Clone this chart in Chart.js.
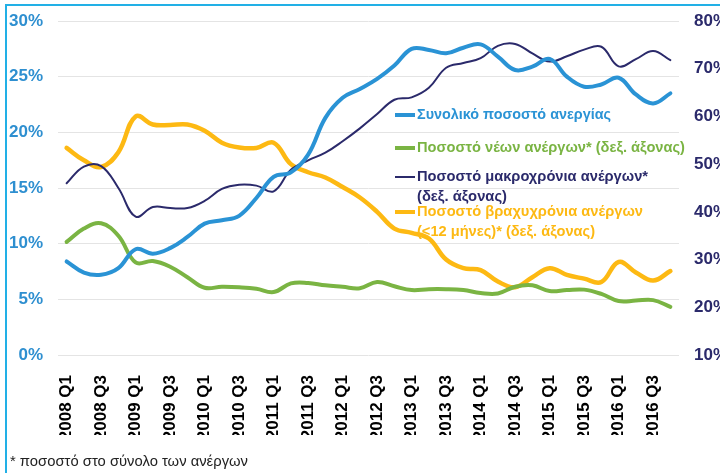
<!DOCTYPE html>
<html lang="el">
<head>
<meta charset="utf-8">
<script src="https://cdn.jsdelivr.net/npm/chart.js@4.4.1/dist/chart.umd.min.js"></script>
<style>
  html, body { margin: 0; padding: 0; background: #fff; overflow: hidden; }
  #wrap { position: relative; width: 732px; height: 473px; }
  #frame { position: absolute; left: 5px; top: 4px; width: 800px; height: 600px;
           border-top: 2px solid #22b0e6; border-left: 2px solid #22b0e6; pointer-events: none; }
  #note { position: absolute; left: 10px; top: 453px; font-family: "Liberation Sans Narrow", "Arial Narrow", Arial, sans-serif;
          font-size: 14.8px; color: #222; white-space: nowrap; }
</style>
</head>
<body>
<div id="wrap">
  <canvas id="chart"></canvas>
  <div id="frame"></div>
  <div id="note">* ποσοστό στο σύνολο των ανέργων</div>
</div>
<script>
document.addEventListener("DOMContentLoaded", function() {
    // quarters 2008 Q1 .. 2016 Q4
    const quarters = [
        '2008 Q1', '2008 Q2', '2008 Q3', '2008 Q4',
        '2009 Q1', '2009 Q2', '2009 Q3', '2009 Q4',
        '2010 Q1', '2010 Q2', '2010 Q3', '2010 Q4',
        '2011 Q1', '2011 Q2', '2011 Q3', '2011 Q4',
        '2012 Q1', '2012 Q2', '2012 Q3', '2012 Q4',
        '2013 Q1', '2013 Q2', '2013 Q3', '2013 Q4',
        '2014 Q1', '2014 Q2', '2014 Q3', '2014 Q4',
        '2015 Q1', '2015 Q2', '2015 Q3', '2015 Q4',
        '2016 Q1', '2016 Q2', '2016 Q3', '2016 Q4'
    ];

    // left axis (%)
    const totalRate = [
        8.4, 7.4, 7.2, 7.8, 9.5, 9.1, 9.6, 10.6, 11.8, 12.1, 12.5, 14.1,
        16.0, 16.4, 18.0, 21.3, 23.1, 23.9, 24.8, 26.0, 27.5, 27.4, 27.1, 27.6,
        27.9, 26.8, 25.6, 25.9, 26.6, 25.0, 24.1, 24.3, 24.9, 23.4, 22.6, 23.5
    ];
    // right axis (% of unemployed)
    const youthShare = [
        33.7, 36.5, 37.6, 35.0, 29.4, 29.7, 28.5, 26.3, 24.1, 24.3, 24.2, 23.9,
        23.2, 25.0, 25.1, 24.6, 24.3, 24.0, 25.3, 24.4, 23.6, 23.8, 23.8, 23.6,
        23.0, 22.9, 24.3, 24.6, 23.4, 23.6, 23.7, 22.8, 21.3, 21.4, 21.5, 20.1
    ];
    const longTermShare = [
        46.0, 49.5, 49.6, 45.0, 39.0, 41.0, 40.8, 40.8, 42.3, 44.8, 45.7, 45.5,
        44.3, 48.8, 50.8, 52.4, 54.8, 57.5, 60.5, 63.5, 64.0, 66.0, 70.2, 71.2,
        72.2, 74.8, 75.2, 73.2, 71.5, 72.6, 74.0, 74.6, 70.5, 72.0, 73.7, 71.8
    ];
    const shortTermShare = [
        53.4, 50.8, 49.4, 52.5, 60.0, 58.3, 58.2, 58.3, 57.0, 54.5, 53.5, 53.4,
        54.5, 50.0, 48.3, 47.2, 45.2, 43.0, 40.0, 36.5, 35.6, 34.4, 30.0, 28.2,
        27.8, 25.4, 24.2, 26.3, 28.2, 26.8, 26.0, 25.3, 29.5, 27.3, 25.6, 27.6
    ];

    const leftTicks = [0, 30, 5];
    const rightTicks = [10, 80, 10];

    const BLUE = '#2a93d5';
    const GREEN = '#7ab443';
    const NAVY = '#2b2a6b';
    const YELLOW = '#fdb913';
    const FONT = 'Arial, "Liberation Sans", sans-serif';

    // legend entries, drawn inside the plot like the original
    const legendItems = [
        { color: BLUE, width: 4, lines: ['Συνολικό ποσοστό ανεργίας'], y: 115, maxW: [194] },
        { color: GREEN, width: 4, lines: ['Ποσοστό νέων ανέργων* (δεξ. άξονας)'], y: 148, maxW: [268] },
        { color: NAVY, width: 2, lines: ['Ποσοστό μακροχρόνια ανέργων*', '(δεξ. άξονας)'], y: 177, maxW: [231, 90] },
        { color: YELLOW, width: 4, lines: ['Ποσοστό βραχυχρόνια ανέργων', '(<12 μήνες)* (δεξ. άξονας)'], y: 212, maxW: [226, 178] }
    ];

    const legendPlugin = {
        id: 'insideLegend',
        afterDraw(chart) {
            const ctx = chart.ctx;
            ctx.save();
            ctx.font = 'bold 15px ' + FONT;
            ctx.textBaseline = 'middle';
            legendItems.forEach(item => {
                ctx.strokeStyle = item.color;
                ctx.lineWidth = item.width;
                ctx.beginPath();
                ctx.moveTo(395, item.y);
                ctx.lineTo(415, item.y);
                ctx.stroke();
                ctx.fillStyle = item.color;
                item.lines.forEach((txt, k) => {
                    ctx.fillText(txt, 417, item.y + k * 19.5, item.maxW[k]);
                });
            });
            ctx.restore();
        }
    };

    const ctx = document.getElementById('chart').getContext('2d');
    const chart = new Chart(ctx, {
        type: 'line',
        data: {
            labels: quarters,
            datasets: [
                { label: 'Συνολικό ποσοστό ανεργίας', data: totalRate, yAxisID: 'y',
                  borderColor: BLUE, borderWidth: 4 },
                { label: 'Ποσοστό νέων ανέργων* (δεξ. άξονας)', data: youthShare, yAxisID: 'y1',
                  borderColor: GREEN, borderWidth: 4 },
                { label: 'Ποσοστό μακροχρόνια ανέργων* (δεξ. άξονας)', data: longTermShare, yAxisID: 'y1',
                  borderColor: NAVY, borderWidth: 2 },
                { label: 'Ποσοστό βραχυχρόνια ανέργων (<12 μήνες)* (δεξ. άξονας)', data: shortTermShare, yAxisID: 'y1',
                  borderColor: YELLOW, borderWidth: 4.5 }
            ]
        },
        options: {
            responsive: true,
            maintainAspectRatio: false,
            animation: false,
            layout: { padding: { left: 8, right: 4, top: 21, bottom: 38 } },
            elements: {
                point: { radius: 0 },
                line: { tension: 0.4, fill: false, borderCapStyle: 'round' }
            },
            plugins: {
                legend: { display: false },
                tooltip: { enabled: false }
            },
            scales: {
                x: {
                    offset: true,
                    grid: { display: false },
                    border: { display: false },
                    afterFit: s => { s.height = 80; s.paddingLeft = 0; s.paddingRight = 0; },
                    ticks: {
                        autoSkip: false,
                        minRotation: 90,
                        maxRotation: 90,
                        padding: 12,
                        color: '#000',
                        font: { family: FONT, size: 17, weight: 'bold' },
                        callback: function(value, index) {
                            return index % 2 === 0 ? quarters[index] : '';
                        }
                    }
                },
                y: {
                    position: 'left',
                    min: leftTicks[0],
                    max: leftTicks[1],
                    grid: { color: '#e4e4e4', drawTicks: false },
                    border: { display: false },
                    afterFit: s => { s.width = 50; s.paddingTop = 0; s.paddingBottom = 0; },
                    ticks: {
                        stepSize: leftTicks[2],
                        padding: 15,
                        color: '#2e8fd0',
                        font: { family: FONT, size: 17, weight: 'bold' },
                        callback: v => v + '%'
                    }
                },
                y1: {
                    position: 'right',
                    min: rightTicks[0],
                    max: rightTicks[1],
                    grid: { display: false, drawTicks: false },
                    border: { display: false },
                    afterFit: s => { s.width = 49; s.paddingTop = 0; s.paddingBottom = 0; },
                    ticks: {
                        stepSize: rightTicks[2],
                        padding: 15,
                        color: NAVY,
                        font: { family: FONT, size: 17, weight: 'bold' },
                        callback: v => v + '%'
                    }
                }
            }
        },
        plugins: [legendPlugin]
    });
});
</script>
</body>
</html>
